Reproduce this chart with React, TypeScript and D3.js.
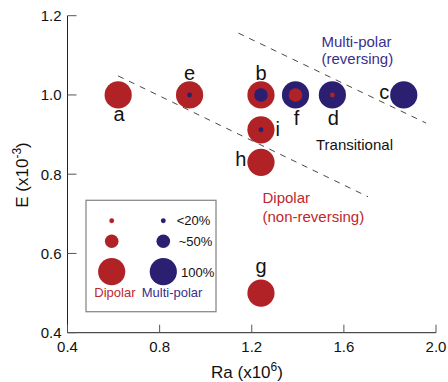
import React from "react";
import * as d3 from "d3";

// ---- data ----
const pointLabels = ["a", "b", "c", "d", "e", "f", "g", "h", "i"];
const raValues = [0.62, 1.24, 1.86, 1.55, 0.93, 1.39, 1.24, 1.24, 1.24];
const eValues = [1.0, 1.0, 1.0, 1.0, 1.0, 1.0, 0.5, 0.83, 0.912];
// dominant regime of outer disk: D = dipolar, M = multi-polar
const outerRegime = ["D", "D", "M", "M", "D", "M", "D", "D", "D"];
// percentage of the time spent in the other regime (inner disk)
const innerPercent = [0, 50, 0, 18, 18, 50, 0, 0, 18];
const labelSide = ["below", "above", "left", "below", "above", "below", "above", "left", "right"];

const xTicks = [0.4, 0.8, 1.2, 1.6, 2.0];
const yTicks = [0.4, 0.6, 0.8, 1.0, 1.2];

// regime boundaries (dashed)
const boundaryLower = [[0.62, 1.048], [1.705, 0.743]];
const boundaryUpper = [[1.142, 1.156], [1.957, 0.929]];

const legendPercents = [18, 50, 100];
const legendLabels = ["<20%", "~50%", "100%"];

const RED = "#b02226";
const BLUE = "#2b1f72";
const RED_TEXT = "#c0272d";
const BLUE_TEXT = "#3a2f8c";
const FONT = "'Liberation Sans', Arial, Helvetica, sans-serif";

export default function App() {
  const W = 448, H = 382;
  const x = d3.scaleLinear().domain([0.4, 2.0]).range([67.5, 436]);
  const y = d3.scaleLinear().domain([0.4, 1.2]).range([332.7, 15.7]);
  const r = d3.scaleLinear().domain([0, 100]).range([0, 13.6]);
  const col = (k: string) => (k === "D" ? RED : BLUE);
  const other = (k: string) => (k === "D" ? BLUE : RED);
  const line = d3.line<number[]>().x((d) => x(d[0])).y((d) => y(d[1]));

  const ascender = (s: string) => "bdfhkl".includes(s);
  const descender = (s: string) => "gjpqy".includes(s);

  const labelProps = (i: number) => {
    const cx = x(raValues[i]), cy = y(eValues[i]);
    const s = pointLabels[i];
    const side = labelSide[i];
    if (side === "below") return { x: cx + 1, y: cy + 26 + (ascender(s) ? 4 : 0), anchor: "middle" };
    if (side === "above") return { x: cx, y: cy - 15 - (descender(s) ? 5.5 : 0), anchor: "middle" };
    if (side === "left") return { x: cx - 14.5, y: cy + 3.8, anchor: "end" };
    return { x: cx + 14.5, y: cy + 6.5, anchor: "start" };
  };

  return (
    <div style={{ position: "fixed", left: 0, top: 0 }}>
      <svg width={W} height={H} style={{ display: "block", fontFamily: FONT }}>
        <rect width={W} height={H} fill="#fff" />
        {/* axes */}
        <line x1={x(0.4)} x2={x(0.4)} y1={y(0.4)} y2={y(1.2)} stroke="#222" strokeWidth={1} />
        <line x1={x(0.4)} x2={x(2.0)} y1={y(0.4)} y2={y(0.4)} stroke="#222" strokeWidth={1} />
        {yTicks.map((t) => (
          <g key={"y" + t}>
            <line x1={x(0.4)} x2={x(0.4) + 9} y1={y(t)} y2={y(t)} stroke="#555" strokeWidth={1} />
            <text x={x(0.4) - 6} y={y(t) + 5.5} textAnchor="end" fontSize={15} fill="#111">
              {t.toFixed(1)}
            </text>
          </g>
        ))}
        {xTicks.map((t) => (
          <g key={"x" + t}>
            <line x1={x(t)} x2={x(t)} y1={y(0.4)} y2={y(0.4) - 8} stroke="#555" strokeWidth={1} />
            <text x={x(t)} y={352.3} textAnchor="middle" fontSize={15} fill="#111">
              {t.toFixed(1)}
            </text>
          </g>
        ))}
        {/* axis titles */}
        <text x={247} y={378} textAnchor="middle" fontSize={17} fill="#111">
          Ra (x10<tspan dy={-7} fontSize={12}>6</tspan><tspan dy={7}>)</tspan>
        </text>
        <text transform="translate(28,175) rotate(-90)" textAnchor="middle" fontSize={17} fill="#111">
          E (x10<tspan dy={-7} fontSize={12}>-3</tspan><tspan dy={7}>)</tspan>
        </text>

        {/* boundaries */}
        {[boundaryLower, boundaryUpper].map((b, i) => (
          <path key={"b" + i} d={line(b) || ""} fill="none" stroke="#333" strokeWidth={0.9} strokeDasharray="6,6" />
        ))}

        {/* points */}
        {pointLabels.map((s, i) => {
          const cx = x(raValues[i]), cy = y(eValues[i]);
          const lp = labelProps(i);
          return (
            <g key={s}>
              <circle cx={cx} cy={cy} r={r(100)} fill={col(outerRegime[i])} />
              {innerPercent[i] > 0 && (
                <circle cx={cx} cy={cy} r={r(innerPercent[i])} fill={other(outerRegime[i])} />
              )}
              <text x={lp.x} y={lp.y} textAnchor={lp.anchor as any} fontSize={20} fill="#111">
                {s}
              </text>
            </g>
          );
        })}

        {/* region annotations */}
        <text x={321.5} y={46.7} fontSize={15} fill={BLUE_TEXT}>Multi-polar</text>
        <text x={321.5} y={64.3} fontSize={15} fill={BLUE_TEXT}>(reversing)</text>
        <text x={316} y={150} fontSize={15} fill="#111">Transitional</text>
        <text x={262.5} y={203.3} fontSize={15} fill={RED_TEXT}>Dipolar</text>
        <text x={262.5} y={221.7} fontSize={15} fill={RED_TEXT}>(non-reversing)</text>

        {/* legend */}
        <rect x={86} y={200.3} width={130} height={111.4} fill="#fff" stroke="#8a8a8a" strokeWidth={1.3} />
        {legendPercents.map((p, i) => {
          const ly = [220.7, 241.3, 271.7][i];
          const lx = [176.7, 178.7, 181][i];
          return (
            <g key={"l" + p}>
              <circle cx={111.7} cy={ly} r={r(p)} fill={RED} />
              <circle cx={163.3} cy={ly} r={r(p)} fill={BLUE} />
              <text x={lx} y={ly + (i === 2 ? 5 : 4.5)} fontSize={13} fill="#111">{legendLabels[i]}</text>
            </g>
          );
        })}
        <text x={94.3} y={296.7} fontSize={13} fill={RED_TEXT}>Dipolar</text>
        <text x={141.7} y={296.7} fontSize={13} fill={BLUE_TEXT}>Multi-polar</text>
      </svg>
    </div>
  );
}
